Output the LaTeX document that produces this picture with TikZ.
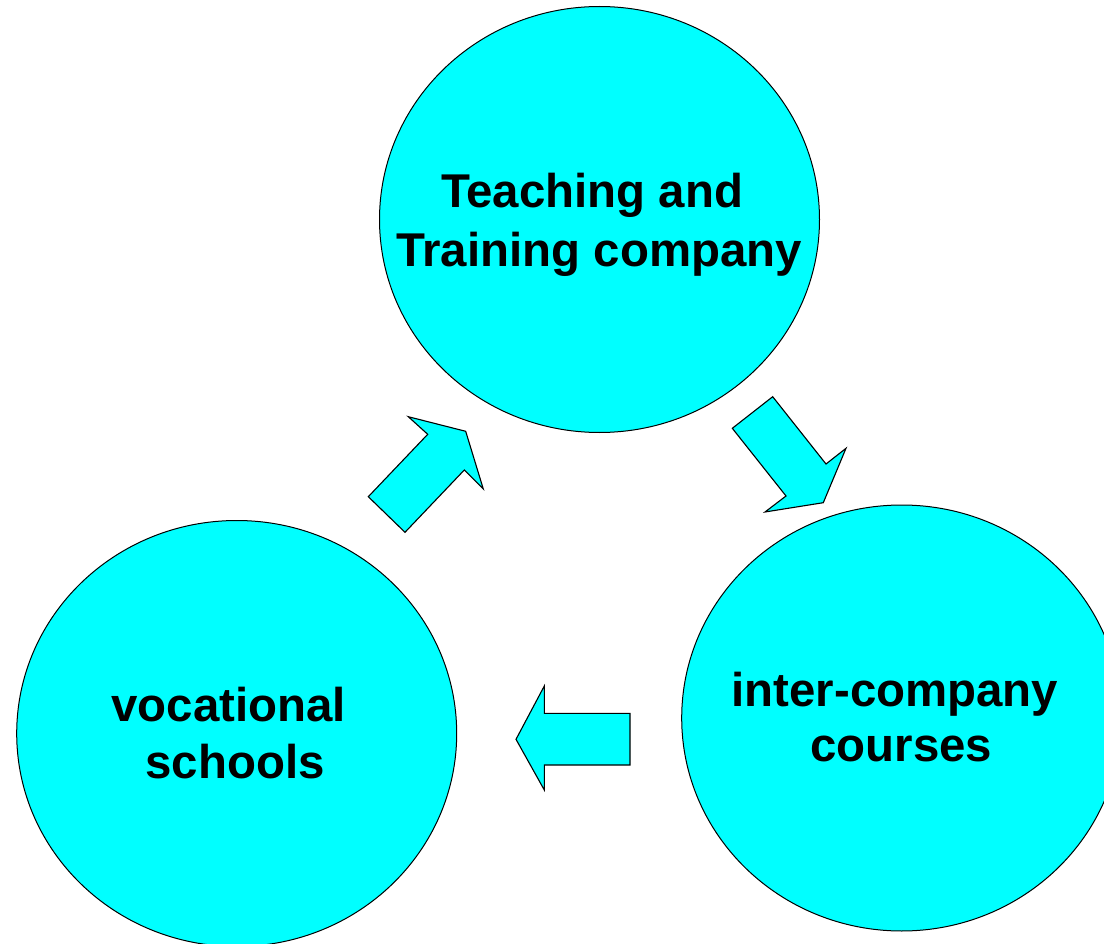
\documentclass[tikz,border=0pt]{standalone}
\usepackage{fontspec}
\setmainfont{Liberation Sans}
\usetikzlibrary{shapes.geometric}
\definecolor{aqua}{HTML}{00FFFF}
\begin{document}
\begin{tikzpicture}[x=1pt,y=-1pt,
  bubble/.style={ellipse,draw=black,line width=1pt,fill=aqua,inner sep=0pt,
    minimum width=440pt,minimum height=426pt},
  lbl/.style={anchor=base,inner sep=0pt,font=\fontsize{47.4}{57}\selectfont\bfseries},
  blockarrow/.style={draw=black,line width=1.1pt,fill=aqua,line join=miter}]
\useasboundingbox (0,0) rectangle (1104,944);
\fill[white] (0,0) rectangle (1104,944);
% circles
\node[bubble] (top) at (599.5,219.5) {};
\node[bubble] (left) at (236.7,733.5) {};
\node[bubble] (right) at (901.7,718) {};
% labels
\node[lbl] (top1) at (592,208) {Teaching and};
\node[lbl] (top2) at (599,266.7) {Training company};
\node[lbl] (right1) at (895,706.7) {inter-company};
\node[lbl] (right2) at (901.3,761.7) {courses};
\node[lbl] (left1) at (228.8,721.7) {vocational};
\node[lbl] (left2) at (235,778.3) {schools};
% block arrows
\draw[blockarrow] (368.3,496.7) -- (427.7,434.3) -- (408.3,416.7) -- (465.7,431.3)
  -- (483.3,489) -- (464.3,470) -- (405,532.3) -- cycle;
\draw[blockarrow] (772.7,396.7) -- (826,464) -- (846,448.3) -- (823.3,502.7)
  -- (765,512) -- (786,496) -- (732.3,428.3) -- cycle;
\draw[blockarrow] (630,713.3) -- (544.3,713.3) -- (544.3,686) -- (516,739.3)
  -- (544.3,790) -- (544.3,765) -- (630,765) -- cycle;
\end{tikzpicture}
\end{document}
